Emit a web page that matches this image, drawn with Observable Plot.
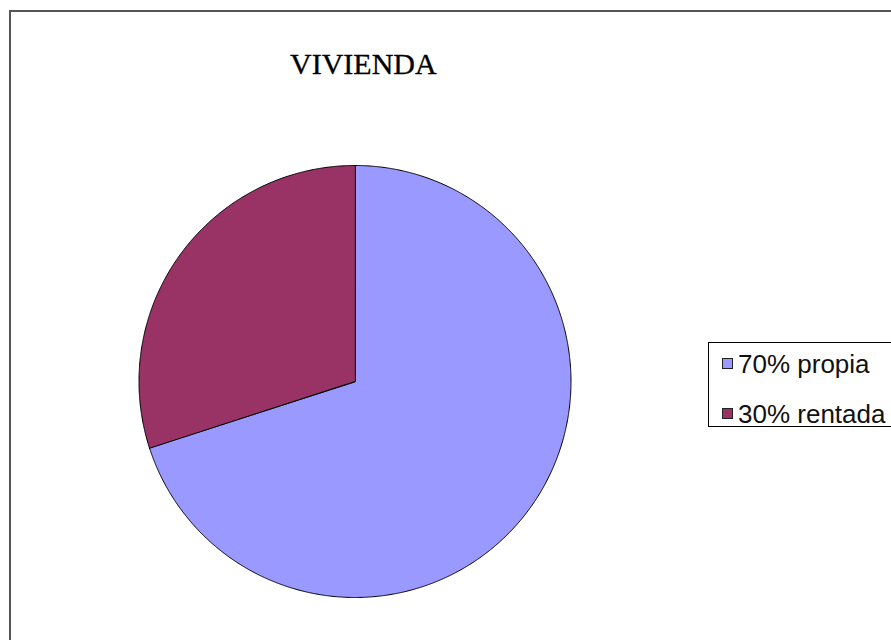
<!DOCTYPE html>
<html>
<head>
<meta charset="utf-8">
<script src="https://cdn.jsdelivr.net/npm/d3@7"></script>
<script src="https://cdn.jsdelivr.net/npm/@observablehq/plot@0.6"></script>
<style>
  html, body { margin: 0; padding: 0; background: #fff; overflow: hidden; }
  #wrap { position: relative; width: 891px; height: 640px; overflow: hidden; }
  #frame { position: absolute; left: 9px; top: 10px; width: 1000px; height: 1000px;
           border-left: 2px solid #555; border-top: 2px solid #555; box-sizing: border-box; }
  #chart { position: absolute; left: 0; top: 0; }
  #title { position: absolute; left: 290px; top: 49px; font-family: "Liberation Serif", "DejaVu Serif", serif;
           font-size: 30px; line-height: 30px; color: #000; white-space: nowrap;
           -webkit-text-stroke: 0.3px #000; }
  #legend { position: absolute; left: 708px; top: 342px; width: 250px; height: 85px;
            border: 1px solid #000; box-sizing: border-box; background: #fff; }
  .item { position: absolute; left: 0; white-space: nowrap; font-family: "Liberation Sans", Arial, sans-serif;
          font-size: 26px; line-height: 26px; color: #111; }
  .sw { position: absolute; left: 13px; width: 11px; height: 11px; border: 1px solid #222; box-sizing: border-box; }
  .lab { position: absolute; left: 29px; top: 0; }
</style>
</head>
<body>
<div id="wrap">
  <div id="frame"></div>
  <div id="chart"></div>
  <div id="title"></div>
  <div id="legend"></div>
</div>
<script>
const title = "VIVIENDA";
const labels = ["propia", "rentada"];
const values = [70, 30];
const legendLabels = ["70% propia", "30% rentada"];
const colors = ["#9999FF", "#993366"];

const pie = d3.pie().sort(null).value(d => d)(values);
const pts = [];
pie.forEach((p, i) => {
  pts.push({s: labels[i], x: 0, y: 0});
  const n = Math.max(2, Math.ceil((p.endAngle - p.startAngle) / 0.005));
  for (let k = 0; k <= n; k++) {
    const a = p.startAngle + (p.endAngle - p.startAngle) * k / n;
    pts.push({s: labels[i], x: Math.sin(a), y: Math.cos(a)});
  }
});

const chart = Plot.plot({
  width: 891,
  height: 640,
  margin: 0,
  style: {background: "transparent", overflow: "visible"},
  x: {domain: [-1, 1], range: [138.5, 570.5], axis: null},
  y: {domain: [-1, 1], range: [597, 165], axis: null},
  color: {domain: labels, range: colors},
  marks: [
    Plot.line(pts, {x: "x", y: "y", z: "s", fill: "s", stroke: "#000", strokeWidth: 1, curve: "linear-closed"})
  ]
});
document.getElementById("chart").appendChild(chart);

document.getElementById("title").textContent = title;

const legend = document.getElementById("legend");
const rowTops = [8, 58];
legendLabels.forEach((t, i) => {
  const item = document.createElement("div");
  item.className = "item";
  item.style.top = rowTops[i] + "px";
  const sw = document.createElement("div");
  sw.className = "sw";
  sw.style.top = "7px";
  sw.style.background = colors[i];
  const lab = document.createElement("div");
  lab.className = "lab";
  lab.textContent = t;
  item.appendChild(sw);
  item.appendChild(lab);
  legend.appendChild(item);
});
</script>
</body>
</html>
